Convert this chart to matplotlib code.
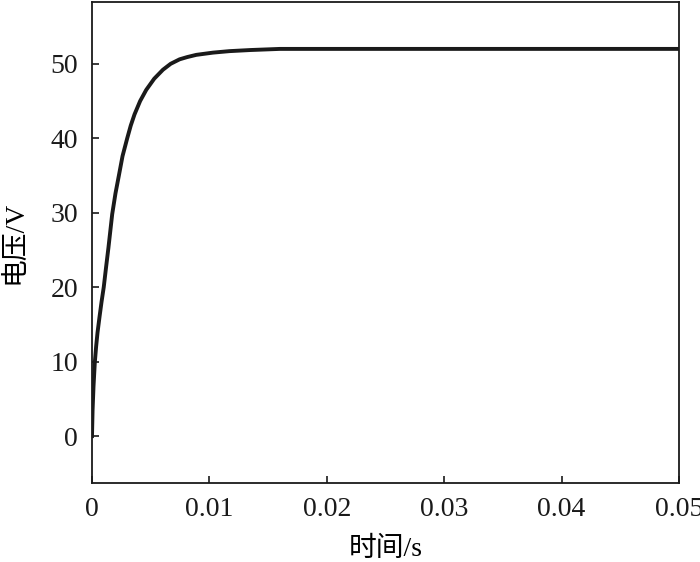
import matplotlib
matplotlib.use("Agg")
import matplotlib.pyplot as plt
from matplotlib.ticker import FixedLocator, FixedFormatter

plt.rcParams['font.family'] = ['Liberation Serif', 'Noto Sans CJK SC']

# curve
time_s = [0.0, 0.00005, 0.00013, 0.00024, 0.00035, 0.00047, 0.00064, 0.00081,
          0.001, 0.0012, 0.0014, 0.00172, 0.002, 0.00229, 0.0026, 0.003,
          0.0033, 0.00362, 0.0041, 0.00462, 0.0053, 0.00604, 0.0067, 0.00746,
          0.0081, 0.00888, 0.0103, 0.0117, 0.0135, 0.016, 0.02, 0.03,
          0.04, 0.05]
voltage = [0.0, 3.5, 6.7, 9.9, 12.0, 13.9, 16.0, 18.0,
           20.0, 22.7, 25.3, 29.8, 32.6, 35.0, 37.6, 40.0,
           41.7, 43.2, 45.0, 46.5, 48.0, 49.2, 50.0, 50.6,
           50.9, 51.2, 51.5, 51.7, 51.85, 52.0, 52.0, 52.0,
           52.0, 52.0]

x_ticks = [0, 0.01, 0.02, 0.03, 0.04, 0.05]
x_labels = ["0", "0.01", "0.02", "0.03", "0.04", "0.05"]
y_ticks = [0, 10, 20, 30, 40, 50]

fig = plt.figure(figsize=(7, 5.62), dpi=100)
ax = fig.add_axes([92 / 700, 1 - 483 / 562, 587 / 700, 481 / 562])
ax.plot(time_s, voltage, color="#1a1a1a", lw=2.8, solid_joinstyle="round")

ax.set_xlim(0, 0.05)
ax.set_ylim(-6.3, 58.3)
ax.xaxis.set_major_locator(FixedLocator(x_ticks))
ax.xaxis.set_major_formatter(FixedFormatter(x_labels))
ax.set_yticks(y_ticks)
ax.tick_params(direction="in", length=5, width=1.2, labelsize=20, colors="#1a1a1a")
ax.tick_params(axis="x", pad=10)
ax.tick_params(axis="y", pad=10)
for s in ax.spines.values():
    s.set_linewidth(1.3)
    s.set_color("#1a1a1a")

ax.set_xlabel("时间/s", fontsize=20, labelpad=11)
ax.set_ylabel("电压/V", fontsize=20, labelpad=17)

fig.savefig("out.png", dpi=100)
